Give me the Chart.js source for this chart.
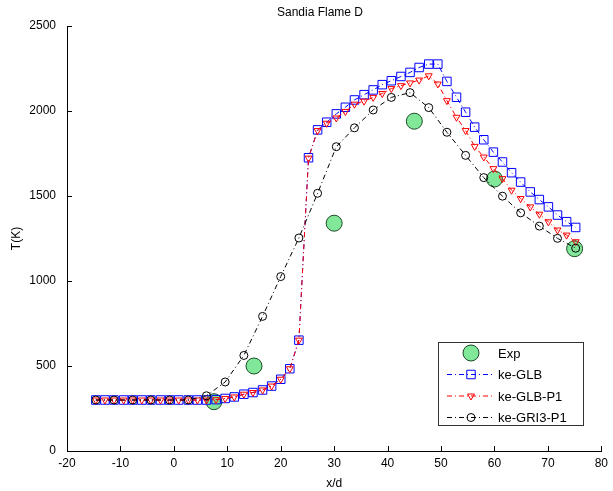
<!DOCTYPE html>
<html>
<head>
<meta charset="utf-8">
<script src="https://cdn.jsdelivr.net/npm/chart.js@4/dist/chart.umd.min.js"></script>
<style>
  body { margin: 0; background: #fff; }
  canvas { display: block; }
</style>
</head>
<body>
<canvas id="flameChart" width="613" height="491"></canvas>
<script>
// SANDIA FLAME D - temperature along the axis
const chartTitle = "Sandia Flame D";
const xTicks = [-20, -10, 0, 10, 20, 30, 40, 50, 60, 70, 80];
const yTicks = [0, 500, 1000, 1500, 2000, 2500];

// experiment
const expX = [7.5, 15, 30, 45, 60, 75];
const expT = [290, 500, 1340, 1940, 1600, 1190];

// ke-GLB and ke-GLB-P1 share the same x positions
const glbX = [
  -14.6, -12.9, -11.2, -9.4, -7.7, -6.0, -4.3, -2.5, -0.8, 0.9,
  2.7, 4.4, 6.1, 7.9, 9.6, 11.3, 13.1, 14.8, 16.6, 18.3,
  20.0, 21.7, 23.4, 25.2, 26.9, 28.6, 30.4, 32.1, 33.8, 35.6,
  37.3, 39.0, 40.7, 42.5, 44.2, 45.9, 47.7, 49.4, 51.1, 52.9,
  54.6, 56.3, 58.0, 59.8, 61.5, 63.2, 64.9, 66.7, 68.4, 70.1,
  71.8, 73.5, 75.2
];
const glbT = [
  300, 300, 300, 300, 300, 300, 300, 300, 300, 300,
  300, 300, 300, 302, 309, 318, 334, 344, 359, 382,
  422, 484, 652, 1725, 1889, 1934, 1983, 2022, 2065, 2096,
  2124, 2155, 2178, 2203, 2227, 2256, 2276, 2276, 2174, 2081,
  1993, 1905, 1831, 1758, 1700, 1637, 1582, 1524, 1479, 1436,
  1388, 1349, 1315
];
const p1T = [
  300, 300, 300, 300, 300, 300, 300, 300, 300, 300,
  300, 300, 300, 302, 309, 318, 334, 344, 359, 382,
  422, 484, 652, 1723, 1885, 1928, 1959, 1997, 2040, 2058,
  2080, 2103, 2132, 2149, 2165, 2182, 2207, 2159, 2061, 1963,
  1885, 1792, 1729, 1661, 1602, 1534, 1485, 1436, 1393, 1348,
  1300, 1270, 1231
];

// ke-GRI3-P1
const gri3X = [
  -14.6, -11.2, -7.7, -4.3, -0.8, 2.7, 6.1, 9.6, 13.1, 16.6,
  20.0, 23.4, 26.9, 30.4, 33.8, 37.3, 40.7, 44.2, 47.7, 51.1,
  54.6, 58.0, 61.5, 64.9, 68.4, 71.8, 75.2
];
const gri3T = [
  300, 300, 300, 300, 300, 300, 325, 406, 562, 792,
  1026, 1253, 1516, 1790, 1901, 2006, 2080, 2108, 2020, 1875,
  1739, 1608, 1499, 1401, 1323, 1251, 1193
];

const toPoints = (xs, ys) => xs.map((x, i) => ({x: x, y: ys[i]}));
const dashDot = [5, 3, 1, 3];

// draws the title above the plot
const titlePlugin = {
  id: "plainTitle",
  afterDraw(chart) {
    const ctx = chart.ctx;
    ctx.save();
    ctx.fillStyle = "#000";
    ctx.font = "12px 'Liberation Sans'";
    ctx.textAlign = "center";
    ctx.textBaseline = "middle";
    ctx.fillText(chartTitle, 320, 13);
    ctx.restore();
  }
};

// tick marks pointing into the plot
const innerTicks = {
  id: "innerTicks",
  afterDraw(chart) {
    const ctx = chart.ctx;
    const area = chart.chartArea;
    const xs = chart.scales.x, ys = chart.scales.y;
    ctx.save();
    ctx.strokeStyle = "#000";
    ctx.lineWidth = 1;
    ctx.beginPath();
    xs.ticks.forEach(t => {
      const px = Math.round(xs.getPixelForValue(t.value)) + 0.5;
      ctx.moveTo(px, area.bottom);
      ctx.lineTo(px, area.bottom - 5);
    });
    ys.ticks.forEach(t => {
      const py = Math.round(ys.getPixelForValue(t.value)) + 0.5;
      ctx.moveTo(area.left, py);
      ctx.lineTo(area.left + 5, py);
    });
    ctx.stroke();
    ctx.restore();
  }
};

// legend box in the lower right corner
const boxLegend = {
  id: "boxLegend",
  afterDraw(chart) {
    const ctx = chart.ctx;
    ctx.save();
    ctx.fillStyle = "#fff";
    ctx.fillRect(438.5, 342.5, 145, 83);
    ctx.strokeStyle = "#333";
    ctx.lineWidth = 1;
    ctx.strokeRect(438.5, 342.5, 145, 83);
    ctx.font = "13px 'Liberation Sans'";
    ctx.textBaseline = "middle";
    chart.data.datasets.forEach((ds, i) => {
      const y = 353 + i * 21.5;
      if (ds.showLine !== false) {
        ctx.strokeStyle = ds.borderColor;
        ctx.lineWidth = 1;
        ctx.setLineDash(ds.borderDash || []);
        ctx.beginPath();
        ctx.moveTo(447, y);
        ctx.lineTo(495, y);
        ctx.stroke();
        ctx.setLineDash([]);
      }
      ctx.fillStyle = ds.pointBackgroundColor;
      ctx.strokeStyle = ds.pointBorderColor;
      ctx.lineWidth = ds.pointBorderWidth || 1;
      Chart.helpers.drawPoint(ctx, {
        pointStyle: ds.pointStyle,
        rotation: ds.pointRotation || 0,
        radius: ds.pointRadius,
        borderWidth: ds.pointBorderWidth || 1
      }, 471, y);
      ctx.fillStyle = "#000";
      ctx.fillText(ds.label, 498, y + 1);
    });
    ctx.restore();
  }
};

const tickFont = { family: "'Liberation Sans'", size: 12 };

new Chart(document.getElementById("flameChart"), {
  type: "line",
  data: {
    datasets: [
      {
        label: "Exp",
        data: toPoints(expX, expT),
        showLine: false,
        pointStyle: "circle",
        pointRadius: 8,
        pointBackgroundColor: "#80e898",
        pointBorderColor: "#1f4a28",
        pointBorderWidth: 1,
        borderColor: "#1f4a28",
        order: 4
      },
      {
        label: "ke-GLB",
        data: toPoints(glbX, glbT),
        borderColor: "#0000ff",
        borderWidth: 1,
        borderDash: dashDot,
        pointStyle: "rect",
        pointRadius: 6,
        pointBackgroundColor: "rgba(0,0,0,0)",
        pointBorderColor: "#0000ff",
        pointBorderWidth: 1,
        order: 3
      },
      {
        label: "ke-GLB-P1",
        data: toPoints(glbX, p1T),
        borderColor: "#ff0000",
        borderWidth: 1,
        borderDash: dashDot,
        pointStyle: "triangle",
        pointRotation: 180,
        pointRadius: 4,
        pointBackgroundColor: "rgba(0,0,0,0)",
        pointBorderColor: "#ff0000",
        pointBorderWidth: 1,
        order: 2
      },
      {
        label: "ke-GRI3-P1",
        data: toPoints(gri3X, gri3T),
        borderColor: "#000000",
        borderWidth: 1,
        borderDash: dashDot,
        pointStyle: "circle",
        pointRadius: 4,
        pointBackgroundColor: "rgba(0,0,0,0)",
        pointBorderColor: "#000000",
        pointBorderWidth: 1,
        order: 1
      }
    ]
  },
  options: {
    responsive: false,
    animation: false,
    layout: { padding: { left: 0, right: 9, top: 26, bottom: 0 } },
    plugins: {
      legend: { display: false },
      title: { display: false },
      tooltip: { enabled: false }
    },
    scales: {
      x: {
        type: "linear",
        min: -20,
        max: 80,
        afterBuildTicks: s => { s.ticks = xTicks.map(v => ({value: v})); },
        afterFit: s => { s.height = 40; },
        grid: { display: false, drawTicks: false },
        border: { display: true, color: "#000", width: 1 },
        ticks: { color: "#000", font: tickFont, padding: 5, maxRotation: 0,
                 callback: v => String(v) },
        title: {
          display: true,
          text: "x/d",
          color: "#000",
          font: { family: "'Liberation Sans'", size: 12 },
          padding: { top: 0, bottom: 0 }
        }
      },
      y: {
        min: 0,
        max: 2500,
        afterBuildTicks: s => { s.ticks = yTicks.map(v => ({value: v})); },
        afterFit: s => { s.width = 67; },
        grid: { display: false, drawTicks: false },
        border: { display: true, color: "#000", width: 1 },
        ticks: { color: "#000", font: tickFont, padding: 11,
                 callback: v => String(v) },
        title: {
          display: true,
          text: "T(K)",
          color: "#000",
          font: { family: "'Liberation Sans'", size: 12 },
          padding: { top: 9, bottom: 0 }
        }
      }
    }
  },
  plugins: [titlePlugin, innerTicks, boxLegend]
});
</script>
</body>
</html>
